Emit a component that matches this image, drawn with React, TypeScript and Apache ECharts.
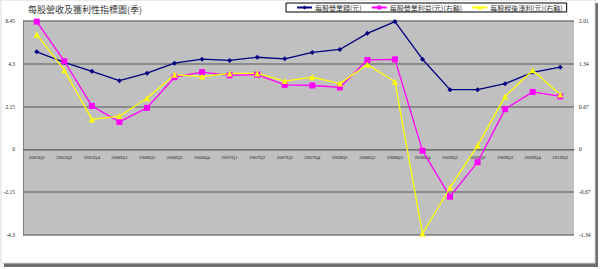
import React, { useEffect, useRef } from "react";
import * as echarts from "echarts";

const categories = [
  "2005Q2", "2005Q3", "2005Q4", "2006Q1", "2006Q2", "2006Q3", "2006Q4",
  "2007Q1", "2007Q2", "2007Q3", "2007Q4", "2008Q1", "2008Q2", "2008Q3",
  "2008Q4", "2009Q1", "2009Q2", "2009Q3", "2009Q4", "2010Q1",
];
const revenuePerShare = [
  4.9, 4.37, 3.92, 3.45, 3.83, 4.33, 4.53, 4.47, 4.63, 4.55,
  4.87, 5.02, 5.83, 6.42, 4.53, 3.0, 3.0, 3.3, 3.87, 4.13,
];
const opIncomePerShare = [
  2.0, 1.38, 0.68, 0.43, 0.65, 1.13, 1.21, 1.16, 1.17, 1.01,
  1.0, 0.97, 1.4, 1.41, -0.02, -0.74, -0.2, 0.63, 0.9, 0.83,
];
const epsPerShare = [
  1.8, 1.24, 0.47, 0.52, 0.8, 1.17, 1.14, 1.19, 1.19, 1.07,
  1.13, 1.03, 1.33, 1.06, -1.32, -0.6, 0.06, 0.83, 1.24, 0.86,
];
const seriesNames = ["每股營業額(元)", "每股營業利益(元)(右軸)", "每股稅後淨利(元)(右軸)"];
const titleText = "每股營收及獲利性指標圖(季)";
const leftMin = -4.3;
const leftMax = 6.45;
const leftInterval = 2.15;
const rightMin = -1.34;
const rightMax = 2.01;
const rightInterval = 0.67;

const fmt = (v: number) => String(Math.round(v * 100) / 100);

export default function App() {
  const ref = useRef<HTMLDivElement>(null);
  useEffect(() => {
    document.body.style.margin = "0";
    if (!ref.current) return;
    const chart = echarts.init(ref.current, undefined, { renderer: "svg" });
    const font = "Liberation Serif";
    const gridTop = 21;
    const gridBottom = 34;
    const plotH = 269 - gridTop - gridBottom;
    const zeroFromBottom = plotH * (0 - leftMin) / (leftMax - leftMin);
    chart.setOption({
      animation: false,
      backgroundColor: "#ffffff",
      textStyle: { fontFamily: font },
      graphic: [
        { type: "rect", z: -10, shape: { x: 4, y: 3, width: 594, height: 264 }, style: { fill: "#6e6e6e" } },
        { type: "rect", z: -9, shape: { x: 1, y: 0, width: 594, height: 263 }, style: { fill: "#ffffff", stroke: "#d8d8d8", lineWidth: 1 } },
        {
          type: "text", left: 28, top: 5,
          style: { text: titleText, fontSize: 9, fill: "#3a3a3a", fontFamily: "Noto Sans CJK TC" },
        },
      ],
      legend: {
        left: 286, top: 3, width: 289,
        padding: [1, 4, 1, 10],
        itemGap: 9,
        itemWidth: 15, itemHeight: 5,
        borderColor: "#000000", borderWidth: 1, backgroundColor: "#ffffff",
        textStyle: { fontSize: 7, color: "#333", fontFamily: "Noto Sans CJK TC", padding: [0, 0, 0, -2] },
        data: seriesNames,
      },
      grid: {
        left: 23, right: 26, top: gridTop, bottom: gridBottom,
        show: true, backgroundColor: "#c0c0c0", borderWidth: 0,
      },
      xAxis: {
        type: "category", data: categories, boundaryGap: true,
        offset: -zeroFromBottom,
        axisLine: { onZero: false, lineStyle: { color: "#707070", width: 1 } },
        axisTick: { inside: true, length: 2, lineStyle: { color: "#555" } },
        axisLabel: { fontSize: 5, color: "#222", margin: 6, interval: 0 },
      },
      yAxis: [
        {
          type: "value", min: leftMin, max: leftMax, interval: leftInterval,
          axisLine: { show: true, lineStyle: { color: "#808080" } },
          axisTick: { show: false },
          splitLine: { lineStyle: { color: "#7a7a7a", width: 1.5 } },
          axisLabel: { fontSize: 5.5, color: "#222", margin: 8, formatter: fmt },
        },
        {
          type: "value", min: rightMin, max: rightMax, interval: rightInterval,
          axisLine: { show: false },
          axisTick: { show: false },
          splitLine: { show: false },
          axisLabel: { fontSize: 5.5, color: "#222", margin: 5, formatter: fmt },
        },
      ],
      series: [
        {
          name: seriesNames[0], type: "line", data: revenuePerShare, yAxisIndex: 0,
          symbol: "diamond", symbolSize: 5, showAllSymbol: true,
          lineStyle: { color: "#000080", width: 1.3 },
          itemStyle: { color: "#000080" },
        },
        {
          name: seriesNames[1], type: "line", data: opIncomePerShare, yAxisIndex: 1,
          symbol: "rect", symbolSize: 6, showAllSymbol: true,
          lineStyle: { color: "#ff00ff", width: 1.3 },
          itemStyle: { color: "#ff00ff" },
        },
        {
          name: seriesNames[2], type: "line", data: epsPerShare, yAxisIndex: 1,
          symbol: "triangle", symbolSize: 6, showAllSymbol: true,
          lineStyle: { color: "#ffff00", width: 1.3 },
          itemStyle: { color: "#ffff00" },
        },
      ],
    });
    return () => chart.dispose();
  }, []);
  return <div ref={ref} style={{ width: 600, height: 269 }} />;
}
